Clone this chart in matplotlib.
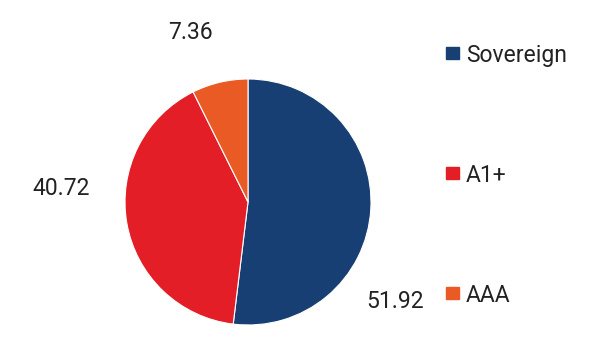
import matplotlib
matplotlib.use('Agg')
import matplotlib.pyplot as plt

# Data
categories = ['Sovereign', 'A1+', 'AAA']
values = [51.92, 40.72, 7.36]
colors = ['#173f73', '#e31e26', '#e95a24']

plt.rcParams['font.family'] = ['Roboto', 'DejaVu Sans']

fig = plt.figure(figsize=(6.05, 3.55), dpi=100)
ax = fig.add_axes([0, 0, 1, 1])
ax.set_aspect('equal')
ax.axis('off')

# pie drawn in pixel coordinates (y down), so counterclock=True shows clockwise
ax.pie(values, colors=colors, startangle=-90, counterclock=True,
       center=(248, 202), radius=123,
       wedgeprops=dict(edgecolor='white', linewidth=0.8))
ax.set_xlim(0, 605)
ax.set_ylim(355, 0)

# value labels (center x, baseline y)
label_pos = [(395, 308), (61.5, 195), (190.5, 39)]
for v, (x, y) in zip(values, label_pos):
    ax.text(x, y, f'{v:.2f}', fontsize=16.5, color='#222222', ha='center', va='baseline')

# legend
legend_y = [62, 182, 302]
for cat, c, y in zip(categories, colors, legend_y):
    ax.add_patch(plt.Rectangle((446, y - 15.3), 13, 12.6, color=c))
    ax.text(466, y, cat, fontsize=16.5, color='#222222', ha='left', va='baseline')

fig.savefig('out.png', dpi=100)
